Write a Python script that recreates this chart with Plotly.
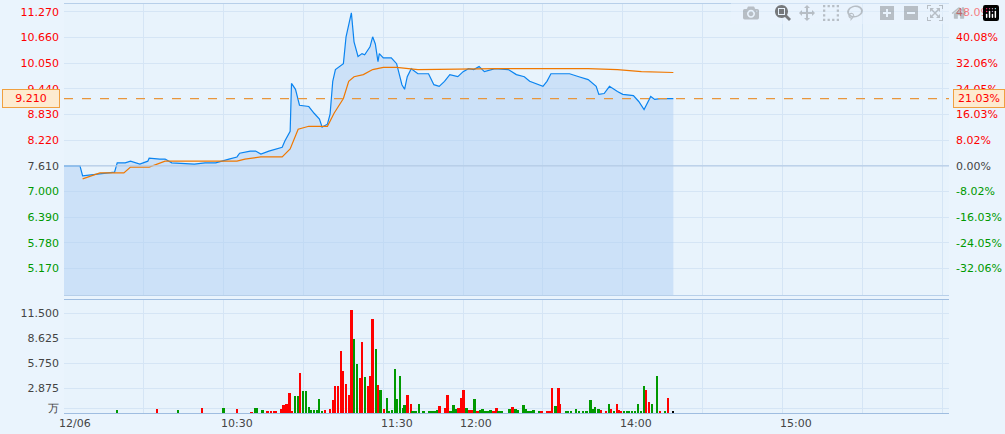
import plotly.graph_objects as go

prev_close = 7.61
last_price = 9.21

# intraday price (minutes since open, price)
price_min = [0, 6, 7, 13.5, 19, 20, 23, 25, 28.5, 31.5, 32, 36, 38, 40.5, 45, 49, 53, 57, 62, 65, 66, 70, 72, 74, 77, 80, 82, 83,
             85, 85.5, 87, 88.5, 92, 94, 96, 97, 99, 100, 101, 102, 105, 106, 108, 109, 110.5, 112, 113, 115, 116, 117, 118,
             118.5, 120, 123, 125, 127, 128, 129, 130.5, 133, 137, 139, 141, 143, 145, 148, 150, 152, 154, 156, 158, 162,
             167, 170, 173, 175, 178.5, 180, 181.5, 183, 186, 190, 193.5, 197, 200, 201, 203, 205, 208, 210, 214, 216, 218,
             220.5, 222, 224, 229]
price = [7.61, 7.61, 7.37, 7.42, 7.46, 7.68, 7.68, 7.72, 7.65, 7.72, 7.79, 7.77, 7.77, 7.68, 7.66, 7.65, 7.68, 7.68, 7.77, 7.82,
         7.91, 7.96, 7.96, 7.89, 7.96, 8.01, 8.05, 8.20, 8.43, 9.57, 9.43, 9.05, 9.02, 8.86, 8.72, 8.53, 8.60, 8.84, 9.62,
         9.90, 10.04, 10.68, 11.25, 10.56, 10.21, 10.28, 10.25, 10.44, 10.68, 10.51, 10.09, 10.28, 10.18, 10.18, 10.04,
         9.54, 9.43, 9.73, 9.92, 9.80, 9.80, 9.54, 9.50, 9.62, 9.78, 9.73, 9.85, 9.92, 9.90, 9.97, 9.85, 9.92, 9.90, 9.78,
         9.73, 9.62, 9.54, 9.50, 9.62, 9.80, 9.80, 9.80, 9.73, 9.66, 9.50, 9.31, 9.33, 9.50, 9.38, 9.31, 9.28, 9.14, 8.95,
         9.26, 9.19, 9.21, 9.21]

avg_min = [7, 13.5, 22.5, 25, 32, 38, 51, 65, 68, 74, 82, 85, 88, 92, 99, 101.5, 105, 107, 109, 112.5, 116, 120, 125, 133,
           163, 197, 208, 217, 229]
avg_price = [7.30, 7.44, 7.44, 7.58, 7.58, 7.72, 7.72, 7.72, 7.77, 7.82, 7.82, 8.01, 8.48, 8.55, 8.55, 8.86, 9.21, 9.62,
             9.73, 9.78, 9.90, 9.95, 9.95, 9.90, 9.92, 9.92, 9.90, 9.85, 9.83]

# volume bars (minute, volume in 万, up=True red / False green)
vol_min = [20, 35, 43, 52, 60, 65, 70.6, 71.9, 72.5, 74.75, 76.6, 77.9, 78.9, 79.75, 81.9, 82.6, 83.75, 84.9, 85.6, 86.9, 88,
           88.75, 89.9, 91, 92.1, 92.9, 94, 95.1, 95.9, 97, 98.1, 100, 101.1, 101.9, 103, 104.1, 104.9, 106, 107.1, 108.1,
           109, 110.1, 111.25, 112, 113.1, 114.25, 115, 116.1, 117.25, 118, 119.1, 120.25, 121.4, 122.1, 123.25, 124.4,
           125.1, 126.25, 127.4, 128.1, 129.25, 130.4, 131.1, 132.25, 133.4, 135.25, 137.5, 138.6, 139.75, 140.5, 141.25,
           143.5, 144.25, 145.4, 146.5, 147.25, 148.4, 149.5, 150.25, 151.4, 152.5, 153.6, 154.4, 155.5, 156.6, 157.4,
           158.5, 159.6, 160.4, 161.5, 162.6, 163.4, 164.5, 167.5, 168.6, 169.75, 170.5, 172.75, 173.5, 174.6, 175.4,
           176.5, 178.75, 179.5, 181.75, 182.9, 183.6, 184.75, 185.9, 186.6, 188.9, 189.6, 190.75, 192.6, 193.75, 195.25,
           196.4, 197.9, 199, 199.75, 200.9, 202, 203.9, 205, 205.75, 206.9, 208, 208.75, 209.5, 210.6, 211.75, 212.5,
           213.6, 214.75, 215.9, 217, 218.1, 218.9, 220, 221.1, 223, 224.1, 226, 227.1, 229]
vol = [0.3, 0.4, 0.3, 0.6, 0.6, 0.5, 0.08, 0.53, 0.61, 0.34, 0.11, 0.11, 0.11, 0.11, 0.46, 0.91, 1.03, 2.28, 0.11, 1.94, 1.94,
       4.56, 2.51, 2.51, 0.68, 0.34, 0.34, 0.34, 1.60, 0.11, 0.34, 0.46, 1.48, 3.08, 3.08, 7.07, 4.79, 3.31, 2.05, 11.86,
       8.55, 5.59, 3.99, 8.21, 4.10, 3.08, 4.22, 10.83, 7.41, 3.19, 2.62, 0.46, 1.71, 0.23, 0.34, 5.02, 1.60, 4.22, 0.57,
       0.91, 2.05, 1.03, 0.11, 0.11, 1.03, 0.11, 0.11, 0.11, 0.11, 0.34, 0.80, 0.57, 2.05, 0.11, 0.91, 0.46, 0.57, 1.71,
       2.62, 0.57, 0.34, 0.34, 1.60, 0.11, 0.34, 0.46, 0.11, 0.11, 0.34, 0.11, 0.57, 0.23, 0.23, 0.46, 0.68, 0.46, 0.34,
       0.91, 0.46, 0.23, 0.11, 0.34, 0.23, 0.11, 0.11, 0.23, 2.85, 0.80, 2.85, 1.03, 0.11, 0.11, 0.11, 0.46, 0.11, 0.11,
       0.23, 1.48, 0.46, 0.68, 0.46, 0.34, 0.23, 1.03, 0.46, 0.11, 1.03, 0.34, 0.11, 0.11, 0.11, 0.11, 0.11, 0.11, 1.03, 0.11,
       3.08, 2.62, 1.25, 1.03, 4.22, 0.11, 0.11, 1.71, 0.11]
vol_up = [False, True, False, True, False, True, True, False, False, False, True, True, True, True, True, True, True, True,
          True, False, False, True, False, False, False, False, False, False, False, False, True, True, True, True, True,
          True, True, True, True, True, False, False, True, True, False, True, True, True, False, True, False, True, False,
          False, False, False, False, False, False, False, True, True, False, False, False, False, False, False, False,
          False, True, True, True, False, False, False, True, True, True, False, True, True, False, True, False, False,
          False, False, False, True, True, False, False, False, True, False, False, False, False, False, False, False,
          False, True, True, True, True, False, True, True, False, False, False, False, False, False, False, False, False,
          False, False, True, True, False, True, False, True, True, True, False, False, False, False, False, False, False,
          False, True, True, False, False, True, False, True]

price_ticks = [11.27, 10.66, 10.05, 9.44, 8.83, 8.22, 7.61, 7.00, 6.39, 5.78, 5.17]
pct_ticks = ['48.09%', '40.08%', '32.06%', '24.05%', '16.03%', '8.02%', '0.00%', '-8.02%', '-16.03%', '-24.05%', '-32.06%']
vol_ticks = [11.5, 8.625, 5.75, 2.875]
time_labels = ['12/06', '10:30', '11:30', '12:00', '14:00', '15:00', '16:00']
time_pos = [4, 65, 125, 155, 215, 275, 335]

RED, GREEN, GREY = '#ff0000', '#009900', '#444444'


def col(p):
    return RED if p > prev_close else (GREEN if p < prev_close else GREY)


y_lo, y_hi = 4.53, 11.46

fig = go.Figure()
fig.add_trace(go.Scatter(x=price_min, y=price, mode='lines', line=dict(color='#0a84f0', width=1.2),
                         fill='tozeroy', fillcolor='rgba(170,205,245,0.45)', hoverinfo='skip'))
fig.add_trace(go.Scatter(x=avg_min, y=avg_price, mode='lines', line=dict(color='#f07800', width=1.2),
                         hoverinfo='skip'))
# invisible trace so the right-hand percent axis is drawn
fig.add_trace(go.Scatter(x=[0], y=[prev_close], yaxis='y2', mode='markers', marker=dict(opacity=0),
                         hoverinfo='skip'))
fig.add_trace(go.Bar(x=vol_min, y=vol, width=0.7, marker=dict(color=[RED if u else GREEN for u in vol_up], line_width=0),
                     xaxis='x2', yaxis='y3', hoverinfo='skip'))

grid = '#d5e5f5'
fig.update_layout(
    width=1005, height=434, showlegend=False, bargap=0,
    margin=dict(l=64, r=54, t=3, b=21),
    paper_bgcolor='#eaf4fd', plot_bgcolor='#e8f3fc',
    font=dict(family='DejaVu Sans', size=11, color=GREY),
    xaxis=dict(range=[0, 332.6], domain=[0, 1], anchor='y', showticklabels=False, ticks='',
               tick0=0, dtick=30, showgrid=True, gridcolor=grid, zeroline=False,
               showline=True, linecolor='#b7cfe9', mirror=True),
    xaxis2=dict(range=[0, 332.6], matches='x', anchor='y3', showticklabels=False, ticks='',
                tick0=0, dtick=30, showgrid=True, gridcolor=grid, zeroline=False,
                showline=True, linecolor='#9fbde0', mirror=True),
    yaxis=dict(domain=[0.288, 1], range=[y_lo, y_hi], tickvals=price_ticks,
               ticktext=[f'<span style="color:{col(p)}">{p:.3f}</span>' for p in price_ticks],
               showgrid=True, gridcolor=grid, zeroline=False, ticks='', ticklabelstandoff=4),
    yaxis2=dict(overlaying='y', anchor='x', side='right', range=[y_lo, y_hi], tickvals=price_ticks,
                ticktext=[f'<span style="color:{col(p)}">{t}</span>' for p, t in zip(price_ticks, pct_ticks)],
                showgrid=False, zeroline=False, ticks='', ticklabelstandoff=6),
    yaxis3=dict(domain=[0, 0.276], range=[0, 13], tickvals=vol_ticks + [0.55],
                ticktext=[f'{v:.3f}' for v in vol_ticks] + ['万'],
                showgrid=True, gridcolor=grid, zeroline=False, ticks='', ticklabelstandoff=4),
)

fig.add_hline(y=prev_close, line=dict(color='#b5cbe6', width=1.2), yref='y')
fig.add_shape(type='line', xref='paper', x0=0, x1=1, yref='y', y0=last_price, y1=last_price,
              line=dict(color='#e8963c', width=1.2, dash='dash'))

box = dict(bgcolor='#fdebd0', bordercolor='#f0a040', borderwidth=1, font=dict(color=RED, size=11),
           showarrow=False, yref='y', y=last_price)
fig.add_annotation(text='9.210', xref='paper', x=-0.004, xanchor='right', borderpad=2, width=52, **box)
fig.add_annotation(text='21.03%', xref='paper', x=1.004, xanchor='left', borderpad=2, width=46, **box)

for t, lab in zip(time_pos, time_labels):
    fig.add_annotation(text=lab, x=t, xref='x', y=0, yref='paper', yanchor='top', yshift=-2,
                       showarrow=False, font=dict(size=11, color=GREY))

fig.write_html('out.html', post_script="document.body.style.margin='0';")
